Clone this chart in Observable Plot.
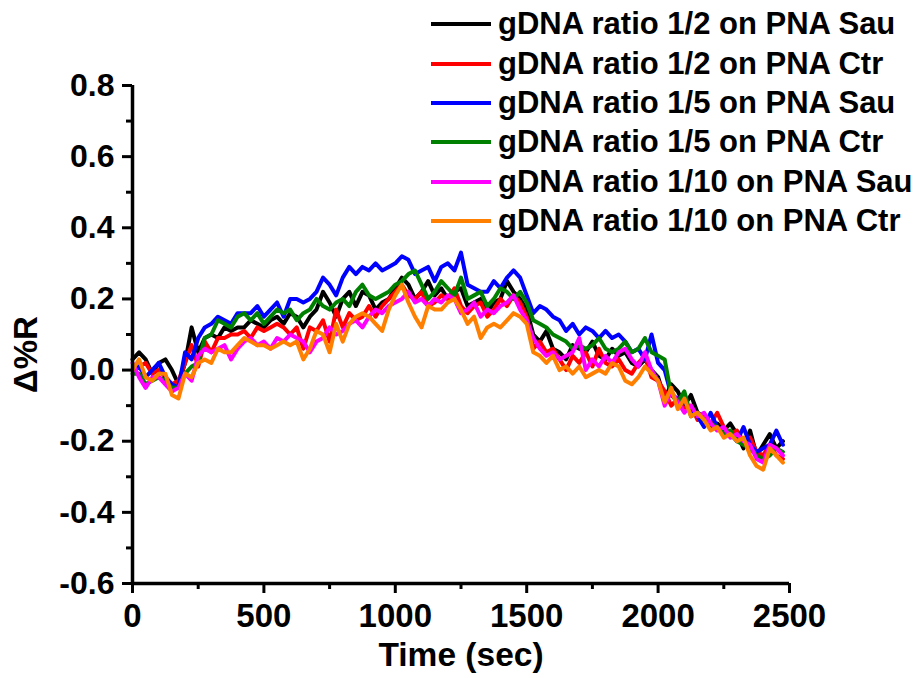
<!DOCTYPE html>
<html>
<head>
<meta charset="utf-8">
<script src="https://cdn.jsdelivr.net/npm/d3@7"></script>
<script src="https://cdn.jsdelivr.net/npm/@observablehq/plot@0.6"></script>
<style>
  body { margin: 0; background: white; }
  #wrap { position: relative; width: 922px; height: 678px; font-family: "Liberation Sans", Arial, sans-serif; }
  .row { position: absolute; left: 431px; height: 40px; display: flex; align-items: center; white-space: nowrap; }
  .sw { display: inline-block; width: 60px; height: 4px; }
  .lb { margin-left: 7px; font-size: 31px; font-weight: bold; color: #000; }
</style>
</head>
<body>
<div id="wrap"></div>
<script>
// time axis (sec), one sample every 25 s
const times = d3.range(0, 2500, 25);

const seriesNames = [
  "gDNA ratio 1/2 on PNA Sau",
  "gDNA ratio 1/2 on PNA Ctr",
  "gDNA ratio 1/5 on PNA Sau",
  "gDNA ratio 1/5 on PNA Ctr",
  "gDNA ratio 1/10 on PNA Sau",
  "gDNA ratio 1/10 on PNA Ctr"
];
const seriesColors = ["#000000", "#ff0000", "#0000ff", "#008000", "#ff00ff", "#ff8000"];

const ratio12Sau = [
  0.03, 0.05, 0.03, -0.01, 0.02, 0.03, 0.00, -0.04, 0.02, 0.12,
  0.05, 0.09, 0.10, 0.09, 0.12, 0.11, 0.12, 0.12, 0.14, 0.13,
  0.12, 0.14, 0.15, 0.13, 0.16, 0.15, 0.12, 0.15, 0.17, 0.22,
  0.19, 0.15, 0.20, 0.22, 0.18, 0.22, 0.21, 0.17, 0.19, 0.20,
  0.23, 0.26, 0.24, 0.20, 0.22, 0.25, 0.21, 0.23, 0.20, 0.22,
  0.23, 0.18, 0.19, 0.20, 0.16, 0.19, 0.20, 0.25, 0.22, 0.20,
  0.17, 0.10, 0.08, 0.11, 0.06, 0.05, 0.03, 0.07, 0.06, 0.05,
  0.08, 0.04, 0.03, 0.06, 0.04, 0.05, 0.02, 0.01, 0.03, 0.00,
  -0.02, -0.08, -0.04, -0.06, -0.10, -0.07, -0.12, -0.13, -0.16, -0.15,
  -0.17, -0.15, -0.18, -0.22, -0.17, -0.24, -0.21, -0.18, -0.22, -0.20
];
const ratio12Ctr = [
  0.00, 0.01, 0.02, -0.01, 0.00, -0.02, -0.04, -0.03, 0.02, 0.07,
  0.01, 0.08, 0.05, 0.09, 0.09, 0.10, 0.10, 0.11, 0.09, 0.12,
  0.11, 0.12, 0.13, 0.12, 0.10, 0.12, 0.06, 0.12, 0.11, 0.14,
  0.08, 0.17, 0.12, 0.16, 0.14, 0.15, 0.18, 0.15, 0.18, 0.20,
  0.22, 0.24, 0.21, 0.20, 0.22, 0.18, 0.19, 0.21, 0.20, 0.23,
  0.18, 0.16, 0.18, 0.19, 0.15, 0.17, 0.20, 0.18, 0.21, 0.19,
  0.15, 0.06, 0.08, 0.05, 0.06, 0.03, 0.00, 0.04, 0.02, 0.05,
  0.01, 0.06, 0.02, 0.01, 0.03, 0.00, -0.01, 0.02, 0.04, -0.02,
  -0.03, -0.06, -0.10, -0.08, -0.11, -0.10, -0.14, -0.13, -0.15, -0.12,
  -0.16, -0.18, -0.17, -0.20, -0.19, -0.23, -0.24, -0.21, -0.24, -0.25
];
const ratio15Sau = [
  0.00, 0.01, -0.02, 0.00, 0.02, -0.02, -0.04, -0.05, 0.05, 0.03,
  0.09, 0.12, 0.13, 0.15, 0.14, 0.13, 0.16, 0.16, 0.16, 0.18,
  0.15, 0.17, 0.19, 0.15, 0.20, 0.20, 0.19, 0.20, 0.22, 0.26,
  0.24, 0.21, 0.26, 0.29, 0.27, 0.29, 0.28, 0.30, 0.28, 0.29,
  0.30, 0.32, 0.31, 0.27, 0.28, 0.29, 0.25, 0.29, 0.30, 0.28,
  0.33, 0.24, 0.23, 0.22, 0.22, 0.25, 0.23, 0.26, 0.28, 0.26,
  0.21, 0.16, 0.18, 0.17, 0.15, 0.14, 0.11, 0.13, 0.10, 0.12,
  0.11, 0.09, 0.11, 0.09, 0.10, 0.08, 0.05, 0.06, 0.03, 0.10,
  0.02, 0.00, -0.07, -0.08, -0.09, -0.11, -0.13, -0.16, -0.12, -0.16,
  -0.17, -0.18, -0.20, -0.16, -0.21, -0.23, -0.22, -0.21, -0.17, -0.21
];
const ratio15Ctr = [
  -0.01, -0.01, -0.04, -0.03, -0.02, -0.03, -0.05, -0.05, -0.01, 0.01,
  0.02, 0.09, 0.10, 0.14, 0.13, 0.12, 0.15, 0.16, 0.14, 0.16,
  0.13, 0.15, 0.17, 0.16, 0.17, 0.14, 0.16, 0.17, 0.20, 0.18,
  0.17, 0.19, 0.20, 0.18, 0.22, 0.24, 0.21, 0.20, 0.21, 0.22,
  0.24, 0.25, 0.27, 0.28, 0.24, 0.20, 0.22, 0.25, 0.23, 0.21,
  0.26, 0.20, 0.21, 0.22, 0.18, 0.20, 0.23, 0.22, 0.20, 0.22,
  0.19, 0.14, 0.13, 0.12, 0.10, 0.09, 0.08, 0.06, 0.07, 0.06,
  0.07, 0.09, 0.06, 0.05, 0.06, 0.08, 0.05, 0.06, 0.09, 0.05,
  0.04, 0.03, -0.07, -0.09, -0.06, -0.13, -0.12, -0.14, -0.15, -0.16,
  -0.18, -0.17, -0.20, -0.21, -0.22, -0.24, -0.25, -0.24, -0.22, -0.23
];
const ratio110Sau = [
  0.02, -0.02, -0.05, -0.02, -0.02, -0.04, -0.06, -0.05, -0.01, -0.03,
  0.04, 0.06, 0.05, 0.06, 0.07, 0.03, 0.06, 0.08, 0.09, 0.07,
  0.08, 0.06, 0.09, 0.08, 0.10, 0.09, 0.08, 0.05, 0.08, 0.09,
  0.12, 0.10, 0.11, 0.13, 0.14, 0.12, 0.15, 0.17, 0.16, 0.18,
  0.19, 0.20, 0.22, 0.19, 0.20, 0.18, 0.20, 0.19, 0.21, 0.20,
  0.16, 0.17, 0.19, 0.15, 0.17, 0.16, 0.18, 0.19, 0.21, 0.17,
  0.14, 0.09, 0.06, 0.04, 0.05, 0.03, 0.04, 0.05, 0.09, 0.00,
  0.03, 0.01, 0.04, 0.02, 0.05, 0.06, 0.03, 0.01, 0.05, 0.00,
  -0.03, -0.10, -0.06, -0.09, -0.12, -0.10, -0.13, -0.12, -0.15, -0.17,
  -0.16, -0.19, -0.18, -0.20, -0.21, -0.25, -0.26, -0.21, -0.22, -0.24
];
const ratio110Ctr = [
  0.00, 0.03, -0.02, -0.03, -0.01, -0.01, -0.07, -0.08, -0.01, -0.02,
  0.02, 0.03, 0.02, 0.06, 0.05, 0.05, 0.07, 0.09, 0.08, 0.07,
  0.07, 0.06, 0.07, 0.08, 0.07, 0.08, 0.03, 0.06, 0.11, 0.10,
  0.05, 0.13, 0.08, 0.13, 0.15, 0.16, 0.15, 0.13, 0.11, 0.17,
  0.21, 0.24, 0.19, 0.15, 0.12, 0.18, 0.17, 0.17, 0.19, 0.20,
  0.17, 0.13, 0.15, 0.09, 0.12, 0.13, 0.12, 0.14, 0.16, 0.15,
  0.13, 0.05, 0.04, 0.02, 0.04, 0.00, 0.01, -0.01, 0.01, -0.02,
  -0.01, 0.00, -0.01, 0.02, 0.01, -0.03, -0.04, -0.02, 0.01, -0.01,
  -0.03, -0.09, -0.05, -0.11, -0.08, -0.13, -0.12, -0.14, -0.17, -0.16,
  -0.19, -0.18, -0.20, -0.19, -0.24, -0.27, -0.28, -0.22, -0.24, -0.26
];

const seriesValues = [ratio12Sau, ratio12Ctr, ratio15Sau, ratio15Ctr, ratio110Sau, ratio110Ctr];

const xMajor = [0, 500, 1000, 1500, 2000, 2500];
const xMinor = [250, 750, 1250, 1750, 2250];
const yMajor = [-0.6, -0.4, -0.2, 0.0, 0.2, 0.4, 0.6, 0.8];
const yMinor = [-0.5, -0.3, -0.1, 0.1, 0.3, 0.5, 0.7];

const tables = seriesValues.map((vals, k) => vals.map((v, i) => ({t: times[i], v, s: seriesNames[k]})));

const chart = Plot.plot({
  width: 922,
  height: 678,
  marginLeft: 132,
  marginRight: 133,
  marginTop: 85,
  marginBottom: 95,
  x: {domain: [0, 2500], label: null},
  y: {domain: [-0.6, 0.8], label: null},
  style: {
    fontFamily: "'Liberation Sans', Arial, sans-serif",
    fontWeight: "bold",
    fontSize: "32px",
    color: "#000",
    background: "white",
    overflow: "visible"
  },
  marks: [
    ...tables.map((tbl, k) => Plot.lineY(tbl, {x: "t", y: "v", stroke: seriesColors[k], strokeWidth: 4, strokeLinejoin: "round"})),
    Plot.ruleX([0], {strokeWidth: 3.5}),
    Plot.ruleY([-0.6], {strokeWidth: 3.5}),
    Plot.axisY(yMajor, {tickSize: 10, tickPadding: 8, strokeWidth: 3, fontSize: 32, fontWeight: "bold", tickFormat: d => d.toFixed(1), label: null}),
    Plot.axisY(yMinor, {tickSize: 6, strokeWidth: 3, tickFormat: () => "", label: null}),
    Plot.axisX(xMajor, {tickSize: 10, tickPadding: 10, strokeWidth: 3, fontSize: 33, fontWeight: "bold", tickFormat: d3.format("d"), label: null}),
    Plot.axisX(xMinor, {tickSize: 6, strokeWidth: 3, tickFormat: () => "", label: null}),
    Plot.text(["Δ%R"], {frameAnchor: "left", dx: -106, dy: 20, rotate: -90, fontSize: 33, fontWeight: "bold", textAnchor: "middle"}),
    Plot.text(["Time (sec)"], {frameAnchor: "bottom", dy: 82, fontSize: 33.5, fontWeight: "bold", textAnchor: "middle"})
  ]
});

const wrap = document.getElementById("wrap");
wrap.appendChild(chart);

// legend overlay
seriesNames.forEach((name, k) => {
  const row = document.createElement("div");
  row.className = "row";
  row.style.top = (24.3 + 39.3 * k - 20) + "px";
  const sw = document.createElement("span");
  sw.className = "sw";
  sw.style.background = seriesColors[k];
  const lb = document.createElement("span");
  lb.className = "lb";
  lb.textContent = name;
  row.appendChild(sw);
  row.appendChild(lb);
  wrap.appendChild(row);
});
chart.style.position = "absolute";
chart.style.left = "0";
chart.style.top = "0";
</script>
</body>
</html>
